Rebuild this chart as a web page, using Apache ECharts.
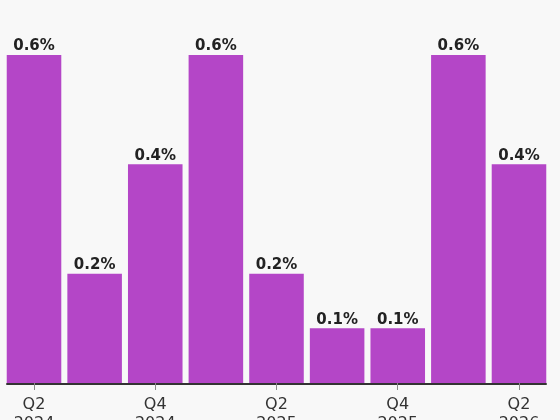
<!DOCTYPE html>
<html><head><meta charset="utf-8">
<script src="https://cdn.jsdelivr.net/npm/echarts@6/dist/echarts.min.js"></script>
<style>html,body{margin:0;padding:0;background:#f8f8f8}#c{width:560px;height:420px}</style>
</head><body><div id="c"></div>
<script>
const categories = ['Q2\n2024','Q3\n2024','Q4\n2024','Q1\n2025','Q2\n2025','Q3\n2025','Q4\n2025','Q1\n2026','Q2\n2026'];
const values = [0.6, 0.2, 0.4, 0.6, 0.2, 0.1, 0.1, 0.6, 0.4];
const chart = echarts.init(document.getElementById('c'));
chart.setOption({
  backgroundColor: '#f8f8f8',
  animation: false,
  grid: [
    {left: 3.7, right: 10.7, top: 55, bottom: 37, containLabel: false, outerBoundsMode: 'none'},
    {left: 7, right: 14, top: 55, bottom: 36, containLabel: false, outerBoundsMode: 'none'}
  ],
  xAxis: [{
    gridIndex: 0, type: 'category', data: categories,
    axisLine: {show: false},
    axisTick: {show: true, alignWithLabel: true, interval: 1, length: 7, lineStyle: {color: '#888', width: 1}},
    axisLabel: {interval: 1, color: '#333', fontFamily: 'DejaVu Sans', fontSize: 16, margin: 12, lineHeight: 19}
  }, {
    gridIndex: 1, type: 'category', data: [''],
    axisLine: {show: true, lineStyle: {color: '#333', width: 2}},
    axisTick: {show: false}, axisLabel: {show: false}
  }],
  yAxis: [
    {gridIndex: 0, type: 'value', min: 0, max: 0.6, show: false, splitLine: {show: false}},
    {gridIndex: 1, type: 'value', min: 0, max: 1, show: false, splitLine: {show: false}}
  ],
  series: [{
    type: 'bar', data: values, barCategoryGap: '10%', xAxisIndex: 0, yAxisIndex: 0,
    itemStyle: {color: '#b446c7'},
    label: {show: true, position: 'top', distance: 1, formatter: '{c}%', fontFamily: 'DejaVu Sans', fontWeight: 'bold', fontSize: 15, color: '#222'}
  }]
});
</script></body></html>
